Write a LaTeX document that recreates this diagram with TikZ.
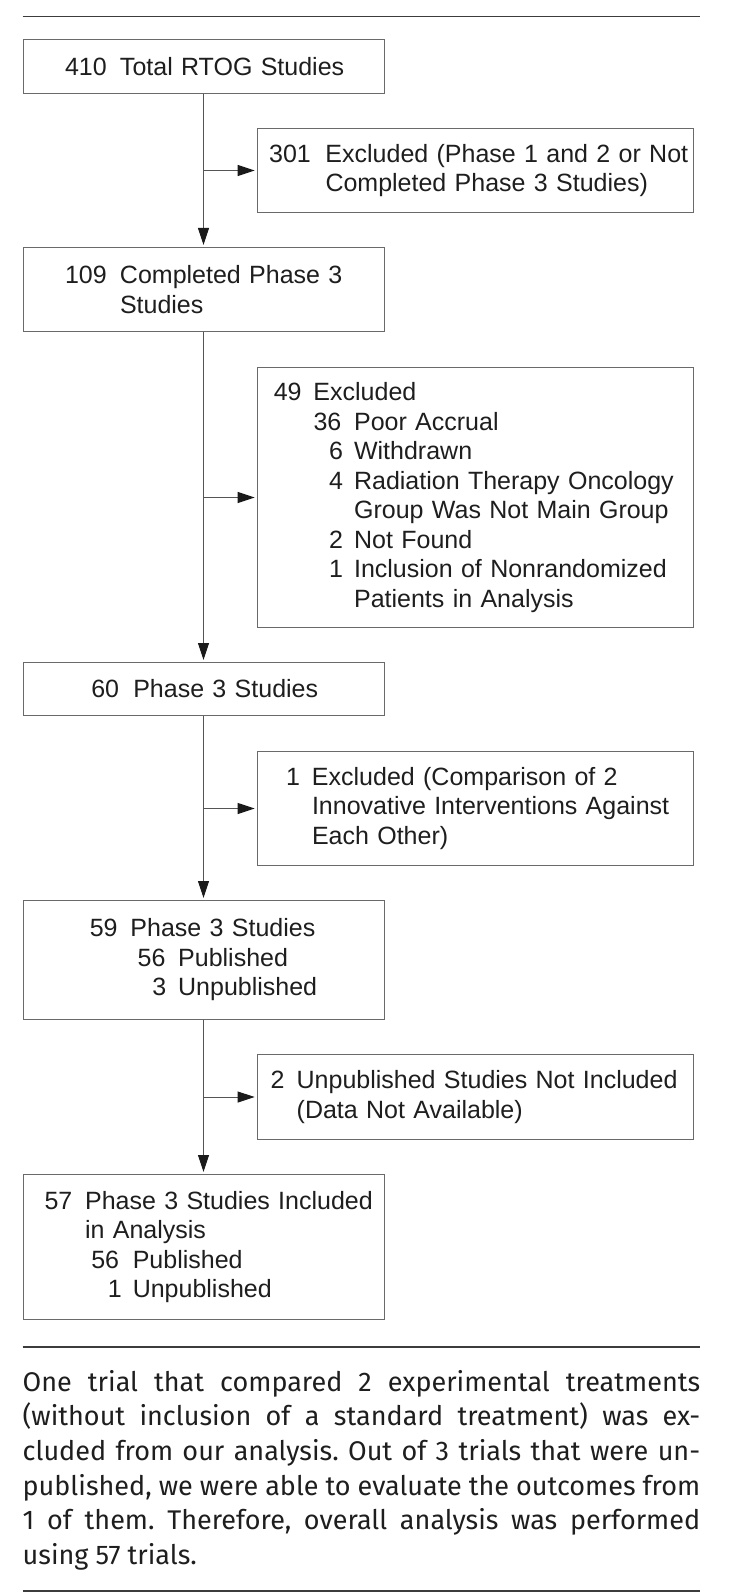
\documentclass[tikz,border=0pt]{standalone}
\usepackage{fontspec}
\setmainfont{Liberation Sans}
\newfontfamily\parafont{Fira Sans}
\usetikzlibrary{arrows.meta}
\definecolor{boxline}{HTML}{6A6A6A}
\definecolor{arrline}{HTML}{555555}
\definecolor{tipc}{HTML}{1A1A1A}
\definecolor{txt}{HTML}{1E1E1E}
\definecolor{rulec}{HTML}{3C3C3C}
\newcommand{\Ln}[4]{\leavevmode\rlap{\hspace*{#1pt}#3}\hspace*{#2pt}\mbox{#4}}
\begin{document}
\begin{tikzpicture}[x=1pt,y=-1pt,
  box/.style={draw=boxline, line width=1pt, rectangle, anchor=north west,
    inner xsep=0pt, inner ysep=0pt, align=left, text=txt,
    font=\fontsize{25}{29.5}\selectfont},
  lbox/.style={box, minimum width=361pt, text width=361pt},
  rbox/.style={box, minimum width=436pt, text width=436pt},
  arr/.style={draw=arrline, line width=1pt, shorten >=2pt,
    -{Triangle[length=17pt,width=11pt,color=tipc]}},
  rulel/.style={draw=rulec, line width=1.6pt}]
\useasboundingbox (0,0) rectangle (750,1594);
\fill[white] (0,0) rectangle (750,1594);
% rules
\coordinate (r1a) at (22.5,16.5);  \coordinate (r1b) at (700,16.5);
\coordinate (r2a) at (22.5,1347);  \coordinate (r2b) at (700,1347);
\coordinate (r3a) at (22.5,1591);  \coordinate (r3b) at (700,1591);
\draw[rulel] (r1a) -- (r1b);
\draw[rulel] (r2a) -- (r2b);
\draw[rulel] (r3a) -- (r3b);
% boxes
\node[lbox, minimum height=54pt] (b1) at (22.5,39)
  {\Ln{42}{97}{410}{Total RTOG Studies}};
\node[rbox, minimum height=84pt] (b2) at (256.6,128)
  {\Ln{12}{68.4}{301}{Excluded (Phase 1 and 2 or Not}\\
   \Ln{12}{68.4}{}{Completed Phase 3 Studies)}};
\node[lbox, minimum height=84pt] (b3) at (22.5,247)
  {\Ln{42}{97}{109}{Completed Phase 3}\\
   \Ln{42}{97}{}{Studies}};
\node[rbox, minimum height=260pt] (b4) at (256.6,367)
  {\Ln{16.7}{56.4}{49}{Excluded}\\
   \Ln{56.4}{97}{36}{Poor Accrual}\\
   \Ln{72.1}{97}{6}{Withdrawn}\\
   \Ln{72.1}{97}{4}{Radiation Therapy Oncology}\\
   \Ln{72.1}{97}{}{Group Was Not Main Group}\\
   \Ln{72.1}{97}{2}{Not Found}\\
   \Ln{72.1}{97}{1}{Inclusion of Nonrandomized}\\
   \Ln{72.1}{97}{}{Patients in Analysis}};
\node[lbox, minimum height=53pt] (b5) at (22.5,662)
  {\Ln{68.3}{110.3}{60}{Phase 3 Studies}};
\node[rbox, minimum height=114pt] (b6) at (256.6,751)
  {\Ln{29.1}{54.9}{1}{Excluded (Comparison of 2}\\
   \Ln{29.1}{54.9}{}{Innovative Interventions Against}\\
   \Ln{29.1}{54.9}{}{Each Other)}};
\node[lbox, minimum height=119pt] (b7) at (22.5,900)
  {\Ln{66.8}{107.5}{59}{Phase 3 Studies}\\
   \Ln{114.6}{155.2}{56}{Published}\\
   \Ln{129.4}{155.2}{3}{Unpublished}};
\node[rbox, minimum height=85pt] (b8) at (256.6,1054)
  {\Ln{13.4}{39.6}{2}{Unpublished Studies Not Included}\\
   \Ln{13.4}{39.6}{}{(Data Not Available)}};
\node[lbox, minimum height=145pt] (b9) at (22.5,1174)
  {\Ln{21.5}{62.1}{57}{Phase 3 Studies Included}\\
   \Ln{21.5}{62.1}{}{in Analysis}\\
   \Ln{68.3}{109.8}{56}{Published}\\
   \Ln{85}{109.8}{1}{Unpublished}};
% connectors
\draw[arr] (b1.south) -- (b3.north);
\draw[arr] (b1.south |- b2.west) -- (b2.west);
\draw[arr] (b3.south) -- (b5.north);
\draw[arr] (b3.south |- b4.west) -- (b4.west);
\draw[arr] (b5.south) -- (b7.north);
\draw[arr] (b5.south |- b6.west) -- (b6.west);
\draw[arr] (b7.south) -- (b9.north);
\draw[arr] (b7.south |- b8.west) -- (b8.west);
% note
\node[anchor=north west, inner sep=0pt, text width=677.5pt, align=justify,
  text=txt, font=\parafont\fontsize{27}{34.6}\selectfont\frenchspacing] (note) at (22.5,1370)
  {One trial that compared 2 experimental treatments\linebreak
   (without inclusion of a standard treatment) was ex-\linebreak
   cluded from our analysis. Out of 3 trials that were un-\linebreak
   published, we were able to evaluate the outcomes from\linebreak
   1 of them. Therefore, overall analysis was performed\linebreak
   using 57 trials.};
\end{tikzpicture}
\end{document}
